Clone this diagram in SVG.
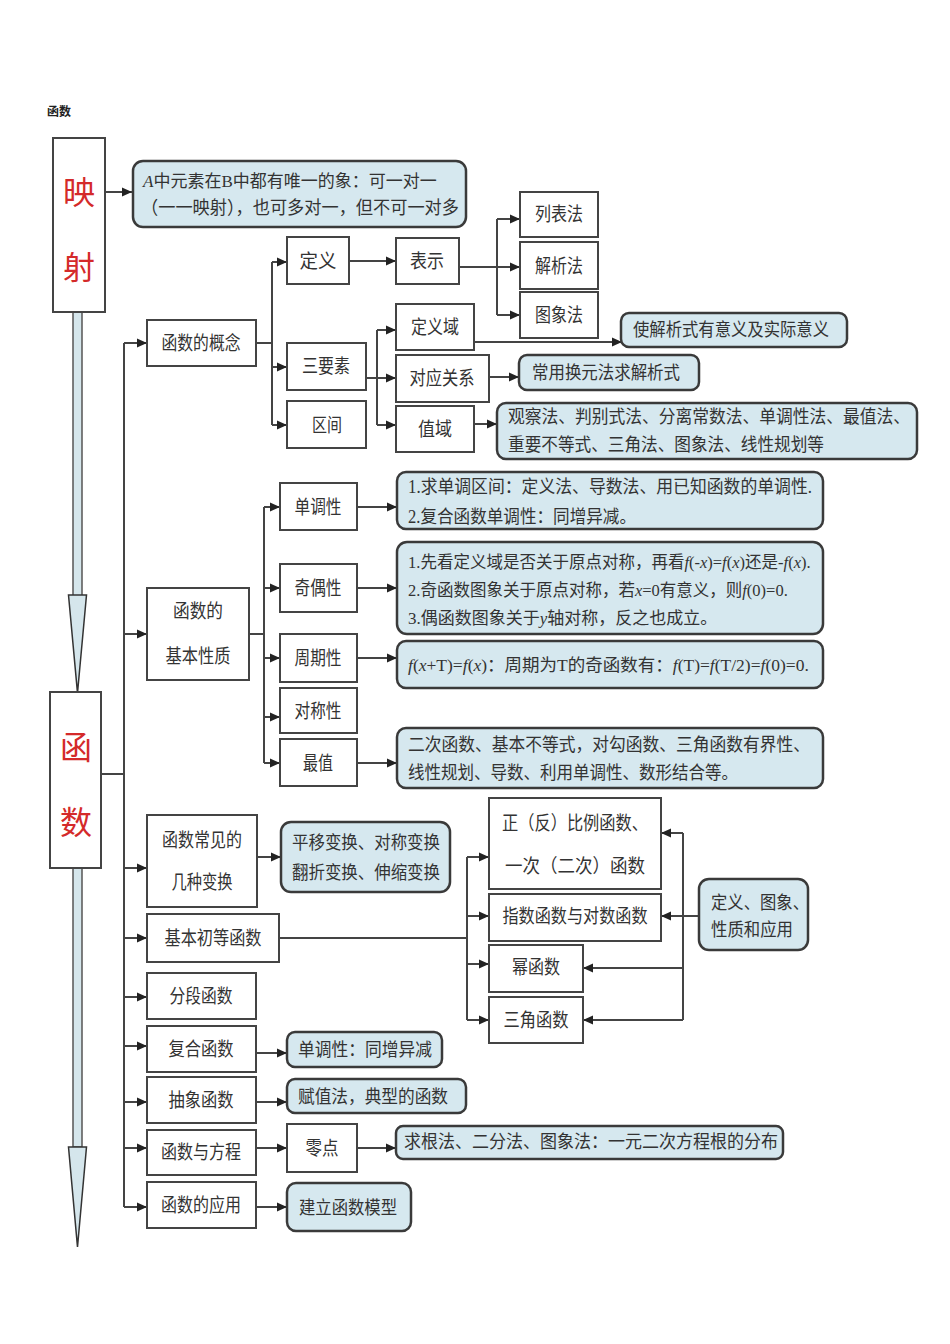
<svg xmlns="http://www.w3.org/2000/svg" width="950" height="1344" viewBox="0 0 950 1344">
<style>
text{font-family:"Liberation Serif","Noto Sans CJK SC",serif;fill:#333}
.box{fill:#fff;stroke:#444;stroke-width:2}
.note{fill:#d6e8ef;stroke:#3a3a3a;stroke-width:2.5}
.lbl{font-size:19px;text-anchor:middle;dominant-baseline:central}
.dsc{font-size:18px;dominant-baseline:central}
.red{font-size:32px;fill:#d42a2a;text-anchor:middle;dominant-baseline:central;font-family:"Noto Sans CJK SC",sans-serif}
.con{fill:none;stroke:#444;stroke-width:2}
.bigarrow{fill:#d5e6ec;stroke:#555;stroke-width:1.5}
.i{font-style:italic}
</style>
<defs>
<marker id="ah" markerUnits="userSpaceOnUse" markerWidth="10" markerHeight="10" viewBox="0 0 10 10" refX="10" refY="5" orient="auto">
<path d="M0,0.5 L10,5 L0,9.5 z" fill="#222"/>
</marker>
</defs>
<rect width="950" height="1344" fill="#fff"/>
<text x="47" y="110" style="font-size:12px;font-weight:bold;fill:#222;font-family:'Noto Sans CJK SC',sans-serif;dominant-baseline:central">函数</text>

<g id="bigarrows">
<rect class="bigarrow" x="73" y="312" width="9" height="284"/>
<polygon class="bigarrow" points="68.5,595 86.5,595 77.5,693" style="stroke:#333"/>
<rect class="bigarrow" x="73" y="868" width="9" height="279"/>
<polygon class="bigarrow" points="68.5,1147 86.5,1147 77.5,1247" style="stroke:#333"/>
</g>

<g id="connectors" class="con">
<path d="M105,192 H132" marker-end="url(#ah)"/>
<path d="M101,774 H124 M124,343 V1207"/>
<path d="M124,343 H147" marker-end="url(#ah)"/>
<path d="M124,634 H147" marker-end="url(#ah)"/>
<path d="M124,868 H147" marker-end="url(#ah)"/>
<path d="M124,938 H147" marker-end="url(#ah)"/>
<path d="M124,997 H147" marker-end="url(#ah)"/>
<path d="M124,1046 H147" marker-end="url(#ah)"/>
<path d="M124,1102 H147" marker-end="url(#ah)"/>
<path d="M124,1148 H147" marker-end="url(#ah)"/>
<path d="M124,1207 H147" marker-end="url(#ah)"/>
<path d="M256,343 H272 M272,262 V425"/>
<path d="M272,262 H287" marker-end="url(#ah)"/>
<path d="M272,367 H287" marker-end="url(#ah)"/>
<path d="M272,425 H287" marker-end="url(#ah)"/>
<path d="M349,261 H396" marker-end="url(#ah)"/>
<path d="M459,267 H520" marker-end="url(#ah)"/>
<path d="M497,219 V315"/>
<path d="M497,219 H520" marker-end="url(#ah)"/>
<path d="M497,315 H520" marker-end="url(#ah)"/>
<path d="M366,378 H396" marker-end="url(#ah)"/>
<path d="M377,330 V425"/>
<path d="M377,330 H396" marker-end="url(#ah)"/>
<path d="M377,425 H396" marker-end="url(#ah)"/>
<path d="M474,342 H622" marker-end="url(#ah)"/>
<path d="M489,377 H519" marker-end="url(#ah)"/>
<path d="M474,424 H497" marker-end="url(#ah)"/>
<path d="M249,634 H264 M264,507 V763"/>
<path d="M264,507 H280" marker-end="url(#ah)"/>
<path d="M264,588 H280" marker-end="url(#ah)"/>
<path d="M264,658 H280" marker-end="url(#ah)"/>
<path d="M264,717 H280" marker-end="url(#ah)"/>
<path d="M264,763 H280" marker-end="url(#ah)"/>
<path d="M357,507 H397" marker-end="url(#ah)"/>
<path d="M357,588 H397" marker-end="url(#ah)"/>
<path d="M357,658 H397" marker-end="url(#ah)"/>
<path d="M357,763 H397" marker-end="url(#ah)"/>
<path d="M257,857 H281" marker-end="url(#ah)"/>
<path d="M279,938 H467 M467,857 V1020"/>
<path d="M467,857 H489" marker-end="url(#ah)"/>
<path d="M467,916 H489" marker-end="url(#ah)"/>
<path d="M467,964 H489" marker-end="url(#ah)"/>
<path d="M467,1020 H489" marker-end="url(#ah)"/>
<path d="M699,916 H661" marker-end="url(#ah)"/>
<path d="M683,833 V1020"/>
<path d="M683,833 H661" marker-end="url(#ah)"/>
<path d="M683,968 H583" marker-end="url(#ah)"/>
<path d="M683,1020 H583" marker-end="url(#ah)"/>
<path d="M256,1053 H287" marker-end="url(#ah)"/>
<path d="M256,1102 H287" marker-end="url(#ah)"/>
<path d="M256,1148 H287" marker-end="url(#ah)"/>
<path d="M357,1148 H396" marker-end="url(#ah)"/>
<path d="M256,1207 H287" marker-end="url(#ah)"/>
</g>

<g id="n-yingshe"><rect class="box" x="53" y="138" width="52" height="174"/><text class="red" x="79" y="190">映</text><text class="red" x="79" y="265">射</text></g>
<g id="n-yingshe-desc"><rect class="note" x="133" y="161" width="333" height="66" rx="10"/>
<text class="dsc" x="143" y="181" style="font-size:17px"><tspan class="i">A</tspan>中元素在B中都有唯一的象：可一对一</text>
<text class="dsc" x="141" y="208" textLength="318" lengthAdjust="spacingAndGlyphs">（一一映射），也可多对一，但不可一对多</text></g>
<g id="n-hanshu"><rect class="box" x="50" y="692" width="51" height="176"/><text class="red" x="76" y="745">函</text><text class="red" x="76" y="820">数</text></g>

<g id="n-gainian"><rect class="box" x="147" y="320" width="109" height="46"/><text class="lbl" x="201" y="343" textLength="79" lengthAdjust="spacingAndGlyphs">函数的概念</text></g>
<g id="n-dingyi"><rect class="box" x="287" y="237" width="62" height="47"/><text class="lbl" x="318" y="261" textLength="37" lengthAdjust="spacingAndGlyphs">定义</text></g>
<g id="n-biaoshi"><rect class="box" x="396" y="238" width="63" height="46"/><text class="lbl" x="427" y="261" textLength="34" lengthAdjust="spacingAndGlyphs">表示</text></g>
<g id="n-liebiao"><rect class="box" x="520" y="192" width="78" height="45"/><text class="lbl" x="559" y="214" textLength="48" lengthAdjust="spacingAndGlyphs">列表法</text></g>
<g id="n-jiexi"><rect class="box" x="520" y="242" width="78" height="47"/><text class="lbl" x="559" y="266" textLength="48" lengthAdjust="spacingAndGlyphs">解析法</text></g>
<g id="n-tuxiang"><rect class="box" x="520" y="292" width="78" height="46"/><text class="lbl" x="559" y="315" textLength="48" lengthAdjust="spacingAndGlyphs">图象法</text></g>
<g id="n-sanyaosu"><rect class="box" x="287" y="343" width="79" height="47"/><text class="lbl" x="326" y="366" textLength="48" lengthAdjust="spacingAndGlyphs">三要素</text></g>
<g id="n-qujian"><rect class="box" x="287" y="401" width="79" height="47"/><text class="lbl" x="327" y="425" textLength="30" lengthAdjust="spacingAndGlyphs">区间</text></g>
<g id="n-dingyiyu"><rect class="box" x="396" y="304" width="78" height="46"/><text class="lbl" x="435" y="327" textLength="48" lengthAdjust="spacingAndGlyphs">定义域</text></g>
<g id="n-duiying"><rect class="box" x="396" y="355" width="93" height="47"/><text class="lbl" x="442" y="378" textLength="65" lengthAdjust="spacingAndGlyphs">对应关系</text></g>
<g id="n-zhiyu"><rect class="box" x="396" y="406" width="78" height="46"/><text class="lbl" x="435" y="429" textLength="34" lengthAdjust="spacingAndGlyphs">值域</text></g>
<g id="n-dingyiyu-desc"><rect class="note" x="621" y="313" width="226" height="34" rx="8"/><text class="dsc" x="633" y="330" textLength="196" lengthAdjust="spacingAndGlyphs">使解析式有意义及实际意义</text></g>
<g id="n-duiying-desc"><rect class="note" x="519" y="355" width="180" height="35" rx="8"/><text class="dsc" x="532" y="373" textLength="148" lengthAdjust="spacingAndGlyphs">常用换元法求解析式</text></g>
<g id="n-zhiyu-desc"><rect class="note" x="497" y="403" width="420" height="56" rx="9"/>
<text class="dsc" x="508" y="417" textLength="402" lengthAdjust="spacingAndGlyphs">观察法、判别式法、分离常数法、单调性法、最值法、</text>
<text class="dsc" x="508" y="445" textLength="316" lengthAdjust="spacingAndGlyphs">重要不等式、三角法、图象法、线性规划等</text></g>

<g id="n-xingzhi"><rect class="box" x="147" y="588" width="102" height="92"/><text class="lbl" x="198" y="611" textLength="50" lengthAdjust="spacingAndGlyphs">函数的</text><text class="lbl" x="198" y="656" textLength="65" lengthAdjust="spacingAndGlyphs">基本性质</text></g>
<g id="n-dandiao"><rect class="box" x="280" y="483" width="77" height="47"/><text class="lbl" x="318" y="507" textLength="47" lengthAdjust="spacingAndGlyphs">单调性</text></g>
<g id="n-jiou"><rect class="box" x="280" y="564" width="77" height="48"/><text class="lbl" x="318" y="588" textLength="47" lengthAdjust="spacingAndGlyphs">奇偶性</text></g>
<g id="n-zhouqi"><rect class="box" x="280" y="634" width="77" height="48"/><text class="lbl" x="318" y="658" textLength="47" lengthAdjust="spacingAndGlyphs">周期性</text></g>
<g id="n-duicheng"><rect class="box" x="280" y="688" width="77" height="45"/><text class="lbl" x="318" y="711" textLength="47" lengthAdjust="spacingAndGlyphs">对称性</text></g>
<g id="n-zuizhi"><rect class="box" x="280" y="739" width="77" height="47"/><text class="lbl" x="318" y="763" textLength="30" lengthAdjust="spacingAndGlyphs">最值</text></g>
<g id="n-dandiao-desc"><rect class="note" x="397" y="472" width="426" height="57" rx="9"/>
<text class="dsc" x="408" y="487" textLength="404" lengthAdjust="spacingAndGlyphs">1.求单调区间：定义法、导数法、用已知函数的单调性.</text>
<text class="dsc" x="408" y="517" textLength="228" lengthAdjust="spacingAndGlyphs">2.复合函数单调性：同增异减。</text></g>
<g id="n-jiou-desc"><rect class="note" x="397" y="542" width="426" height="92" rx="10"/>
<text class="dsc" x="408" y="562" style="font-size:16.5px">1.先看定义域是否关于原点对称，再看<tspan class="i">f</tspan>(-<tspan class="i">x</tspan>)=<tspan class="i">f</tspan>(<tspan class="i">x</tspan>)还是-<tspan class="i">f</tspan>(<tspan class="i">x</tspan>).</text>
<text class="dsc" x="408" y="590" style="font-size:16.5px">2.奇函数图象关于原点对称，若<tspan class="i">x</tspan>=0有意义，则<tspan class="i">f</tspan>(0)=0.</text>
<text class="dsc" x="408" y="618" style="font-size:17px">3.偶函数图象关于<tspan class="i">y</tspan>轴对称，反之也成立。</text></g>
<g id="n-zhouqi-desc"><rect class="note" x="397" y="641" width="426" height="47" rx="9"/>
<text class="dsc" x="408" y="665" style="font-size:17.5px"><tspan class="i">f</tspan>(<tspan class="i">x</tspan>+T)=<tspan class="i">f</tspan>(<tspan class="i">x</tspan>)：周期为T的奇函数有：<tspan class="i">f</tspan>(T)=<tspan class="i">f</tspan>(T/2)=<tspan class="i">f</tspan>(0)=0.</text></g>
<g id="n-zuizhi-desc"><rect class="note" x="397" y="728" width="426" height="60" rx="9"/>
<text class="dsc" x="408" y="745" textLength="402" lengthAdjust="spacingAndGlyphs">二次函数、基本不等式，对勾函数、三角函数有界性、</text>
<text class="dsc" x="408" y="773" textLength="330" lengthAdjust="spacingAndGlyphs">线性规划、导数、利用单调性、数形结合等。</text></g>

<g id="n-bianhuan"><rect class="box" x="147" y="815" width="110" height="92"/><text class="lbl" x="202" y="840" textLength="80" lengthAdjust="spacingAndGlyphs">函数常见的</text><text class="lbl" x="202" y="882" textLength="61" lengthAdjust="spacingAndGlyphs">几种变换</text></g>
<g id="n-bianhuan-desc"><rect class="note" x="281" y="822" width="169" height="70" rx="10"/>
<text class="dsc" x="292" y="843" textLength="148" lengthAdjust="spacingAndGlyphs">平移变换、对称变换</text>
<text class="dsc" x="292" y="873" textLength="148" lengthAdjust="spacingAndGlyphs">翻折变换、伸缩变换</text></g>
<g id="n-chudeng"><rect class="box" x="147" y="914" width="132" height="48"/><text class="lbl" x="213" y="938" textLength="97" lengthAdjust="spacingAndGlyphs">基本初等函数</text></g>
<g id="n-bili"><rect class="box" x="489" y="798" width="172" height="91"/><text class="lbl" x="575" y="823" textLength="146" lengthAdjust="spacingAndGlyphs">正（反）比例函数、</text><text class="lbl" x="575" y="866" textLength="140" lengthAdjust="spacingAndGlyphs">一次（二次）函数</text></g>
<g id="n-zhishu"><rect class="box" x="489" y="894" width="172" height="47"/><text class="lbl" x="575" y="916" textLength="145" lengthAdjust="spacingAndGlyphs">指数函数与对数函数</text></g>
<g id="n-mi"><rect class="box" x="489" y="945" width="94" height="47"/><text class="lbl" x="536" y="967" textLength="48" lengthAdjust="spacingAndGlyphs">幂函数</text></g>
<g id="n-sanjiao"><rect class="box" x="489" y="997" width="94" height="46"/><text class="lbl" x="536" y="1020" textLength="65" lengthAdjust="spacingAndGlyphs">三角函数</text></g>
<g id="n-chudeng-desc"><rect class="note" x="699" y="879" width="109" height="71" rx="10"/>
<text class="dsc" x="711" y="903" textLength="98" lengthAdjust="spacingAndGlyphs">定义、图象、</text>
<text class="dsc" x="711" y="930" textLength="82" lengthAdjust="spacingAndGlyphs">性质和应用</text></g>

<g id="n-fenduan"><rect class="box" x="147" y="973" width="109" height="46"/><text class="lbl" x="201" y="996" textLength="63" lengthAdjust="spacingAndGlyphs">分段函数</text></g>
<g id="n-fuhe"><rect class="box" x="147" y="1026" width="109" height="46"/><text class="lbl" x="201" y="1049" textLength="65" lengthAdjust="spacingAndGlyphs">复合函数</text></g>
<g id="n-fuhe-desc"><rect class="note" x="287" y="1032" width="155" height="35" rx="8"/><text class="dsc" x="298" y="1050" textLength="134" lengthAdjust="spacingAndGlyphs">单调性：同增异减</text></g>
<g id="n-chouxiang"><rect class="box" x="147" y="1077" width="109" height="46"/><text class="lbl" x="201" y="1100" textLength="65" lengthAdjust="spacingAndGlyphs">抽象函数</text></g>
<g id="n-chouxiang-desc"><rect class="note" x="287" y="1079" width="179" height="34" rx="8"/><text class="dsc" x="298" y="1097" textLength="150" lengthAdjust="spacingAndGlyphs">赋值法，典型的函数</text></g>
<g id="n-fangcheng"><rect class="box" x="147" y="1130" width="109" height="45"/><text class="lbl" x="201" y="1152" textLength="80" lengthAdjust="spacingAndGlyphs">函数与方程</text></g>
<g id="n-lingdian"><rect class="box" x="287" y="1124" width="70" height="48"/><text class="lbl" x="322" y="1148" textLength="33" lengthAdjust="spacingAndGlyphs">零点</text></g>
<g id="n-lingdian-desc"><rect class="note" x="396" y="1126" width="387" height="33" rx="7"/><text class="dsc" x="404" y="1142" textLength="374" lengthAdjust="spacingAndGlyphs">求根法、二分法、图象法：一元二次方程根的分布</text></g>
<g id="n-yingyong"><rect class="box" x="147" y="1182" width="109" height="46"/><text class="lbl" x="201" y="1205" textLength="80" lengthAdjust="spacingAndGlyphs">函数的应用</text></g>
<g id="n-yingyong-desc"><rect class="note" x="287" y="1183" width="124" height="48" rx="9"/><text class="dsc" x="299" y="1208" textLength="98" lengthAdjust="spacingAndGlyphs">建立函数模型</text></g>
</svg>
